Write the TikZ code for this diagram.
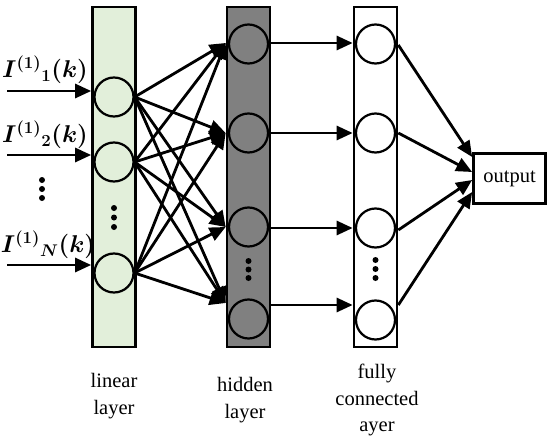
\documentclass[tikz,border=0pt]{standalone}
\usepackage{fontspec}
\setmainfont{Liberation Serif}
\usepackage{tikz}
\usepackage{xcolor}
\usepackage{amsmath,amssymb}
\usetikzlibrary{
    arrows.meta,
    positioning,
    calc
}
\definecolor{lingreen}{RGB}{226,239,218}
\definecolor{hidgray}{RGB}{128,128,128}

\begin{document}
\begin{tikzpicture}[
        x=0.03cm, y=-0.03cm,
        layerbox/.style={draw, line width=2pt, minimum width=1.3cm, minimum height=10.2cm, inner sep=0pt, fill=#1},
        neuron/.style={circle, draw, line width=1.9pt, minimum size=1.17cm, inner sep=0pt},
        dotc/.style={circle, fill=black, minimum size=0.18cm, inner sep=0pt},
        arrow/.style={-{Triangle[length=0.48cm, width=0.42cm]}, line width=2.4pt},
        txt/.style={font=\fontsize{17.5}{23}\selectfont, align=center},
        inlabel/.style={font=\fontsize{20}{24}\selectfont\boldmath}
    ]
        \useasboundingbox (0,0) rectangle (550,441);

        % Layers
        \node[layerbox=lingreen] (lin) at (114,177) {};
        \node[layerbox=hidgray] (hid) at (248.5,177) {};
        \node[layerbox=white] (fc) at (375.5,177) {};

        % Linear layer neurons
        \node[neuron] (l1) at (114,97) {};
        \node[neuron] (l2) at (114,162) {};
        \node[neuron] (l3) at (114,273) {};

        % Hidden layer neurons
        \node[neuron] (h1) at (248.5,44) {};
        \node[neuron] (h2) at (248.5,133) {};
        \node[neuron] (h3) at (248.5,227) {};
        \node[neuron] (h4) at (248.5,319) {};

        % Fully connected layer neurons
        \node[neuron] (f1) at (375.5,44) {};
        \node[neuron] (f2) at (375.5,133) {};
        \node[neuron] (f3) at (375.5,228) {};
        \node[neuron] (f4) at (375.5,320) {};

        % Output
        \node[draw, line width=2pt, minimum width=2.17cm, minimum height=1.5cm, txt] (out) at (509.5,178.5) {output};

        % Dots
        \foreach \d in {0,1,2} {
            \node[dotc] (id\d) at (42,180+9*\d) {};
            \node[dotc] (ld\d) at (114,208+9.5*\d) {};
            \node[dotc] (hd\d) at (248.5,261+8.5*\d) {};
            \node[dotc] (fd\d) at (375.5,260+9*\d) {};
        }

        % Inputs
        \node[inlabel] (lab1) at (45,70) {$I^{(1)}{}_{1}(k)$};
        \node[inlabel] (lab2) at (45,135) {$I^{(1)}{}_{2}(k)$};
        \node[inlabel] (lab3) at (48,245) {$I^{(1)}{}_{N}(k)$};
        \foreach \i/\y in {1/91,2/155,3/265} {
            \coordinate (in\i) at (7,\y);
            \draw[arrow] (in\i) -- (lin.west |- in\i);
        }

        % Linear -> hidden
        \foreach \j/\y in {1/43,2/133,3/227,4/303} {
            \coordinate (t\j) at (hid.west |- 0,\y);
        }
        \foreach \i in {1,2,3} {
            \foreach \j in {1,...,4} {
                \draw[arrow] (l\i.east) -- (t\j);
            }
        }

        % Hidden -> fully connected
        \foreach \y in {43,133,228,305} {
            \draw[arrow] (hid.east |- 0,\y) -- (fc.west |- 0,\y);
        }

        % Fully connected -> output
        \foreach \a/\b in {45/157, 133/172, 230/180, 305/192} {
            \draw[arrow] (fc.east |- 0,\a) -- (out.west |- 0,\b);
        }

        % Layer names
        \node[txt] (linname) at (114,396) {linear\\layer};
        \node[txt] (hidname) at (245,400) {hidden\\layer};
        \node[txt] (fcname) at (377,400) {fully\\connected\\ayer};
    \end{tikzpicture}
\end{document}
